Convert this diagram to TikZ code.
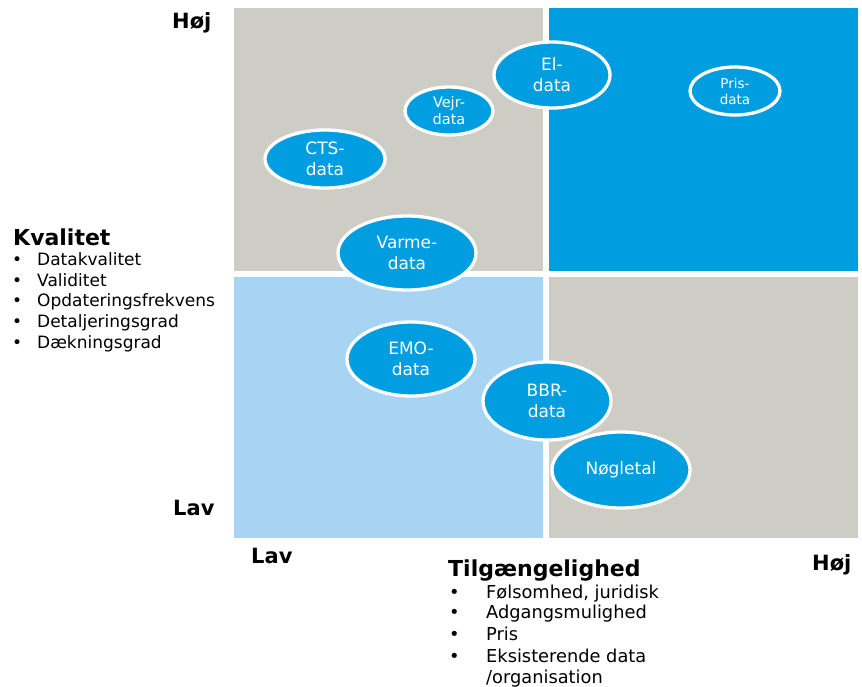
\documentclass[tikz,border=0pt]{standalone}
\usepackage{fontspec}
\setmainfont{DejaVu Sans}
\usetikzlibrary{shapes.geometric}
\definecolor{qblue}{RGB}{0,158,224}
\definecolor{qgrey}{RGB}{206,205,197}
\definecolor{qlight}{RGB}{168,212,243}
\tikzset{
  blob/.style={ellipse, fill=qblue, draw=white, line width=3.3pt, inner sep=0pt,
    text=white, align=center},
  big/.style={font=\fontsize{17}{21}\selectfont},
  small/.style={font=\fontsize{13.5}{16}\selectfont},
  axis/.style={anchor=base west, inner sep=0pt, font=\bfseries\fontsize{21}{24}\selectfont},
  head/.style={anchor=base west, inner sep=0pt, font=\bfseries\fontsize{22}{25}\selectfont},
  item/.style={anchor=base west, inner sep=0pt, font=\fontsize{17}{19}\selectfont},
  itemb/.style={anchor=base west, inner sep=0pt, font=\fontsize{17.8}{19}\selectfont},
}
\begin{document}
\begin{tikzpicture}[x=1pt,y=-1pt]
\useasboundingbox (0,0) rectangle (862,686);
\fill[white] (0,0) rectangle (862,686);
% quadrants
\fill[qgrey] (234,8) rectangle (543,271);
\fill[qblue] (549,8) rectangle (858,271);
\fill[qlight] (234,277) rectangle (543,538);
\fill[qgrey] (549,277) rectangle (858,538);
% ellipses
\node[blob, big, minimum width=116pt, minimum height=66pt] (el) at (552,75) {El-\\data};
\node[blob, small, minimum width=90pt, minimum height=48pt] (pris) at (735,91) {Pris-\\data};
\node[blob, font=\fontsize{14.5}{17}\selectfont, minimum width=88pt, minimum height=48pt] (vejr) at (449,111) {Vejr-\\data};
\node[blob, big, minimum width=120pt, minimum height=58pt] (cts) at (325,159) {CTS-\\data};
\node[blob, big, minimum width=138pt, minimum height=74pt] (varme) at (407,253) {Varme-\\data};
\node[blob, big, minimum width=128pt, minimum height=74pt] (emo) at (411,359) {EMO-\\data};
\node[blob, big, minimum width=128pt, minimum height=78pt] (bbr) at (547,401) {BBR-\\data};
\node[blob, big, minimum width=138pt, minimum height=76pt] (nog) at (621,470) {Nøgletal};
% axis labels
\node[axis] (hojtop) at (172,28) {Høj};
\node[axis] (lavleft) at (173,515) {Lav};
\node[axis] (lavbot) at (251,563) {Lav};
\node[axis] (hojbot) at (812,570) {Høj};
% Kvalitet
\node[head] (kval) at (13,245) {Kvalitet};
\foreach \y/\t [count=\i] in {265/Datakvalitet, 286/Validitet, 306/Opdateringsfrekvens, 327/Detaljeringsgrad, 348/Dækningsgrad}{
  \node[item] (kb\i) at (12,\y) {•};
  \node[item] (kt\i) at (37,\y) {\t};
}
% Tilgaengelighed
\node[head] (tilg) at (448,576) {Tilgængelighed};
\foreach \y/\t [count=\i] in {598/{Følsomhed, juridisk}, 618/Adgangsmulighed, 640/Pris, 662/Eksisterende data}{
  \node[itemb] (tb\i) at (449,\y) {•};
  \node[itemb] (tt\i) at (486,\y) {\t};
}
\node[itemb] (tt5) at (486,683) {/organisation};
\end{tikzpicture}
\end{document}
